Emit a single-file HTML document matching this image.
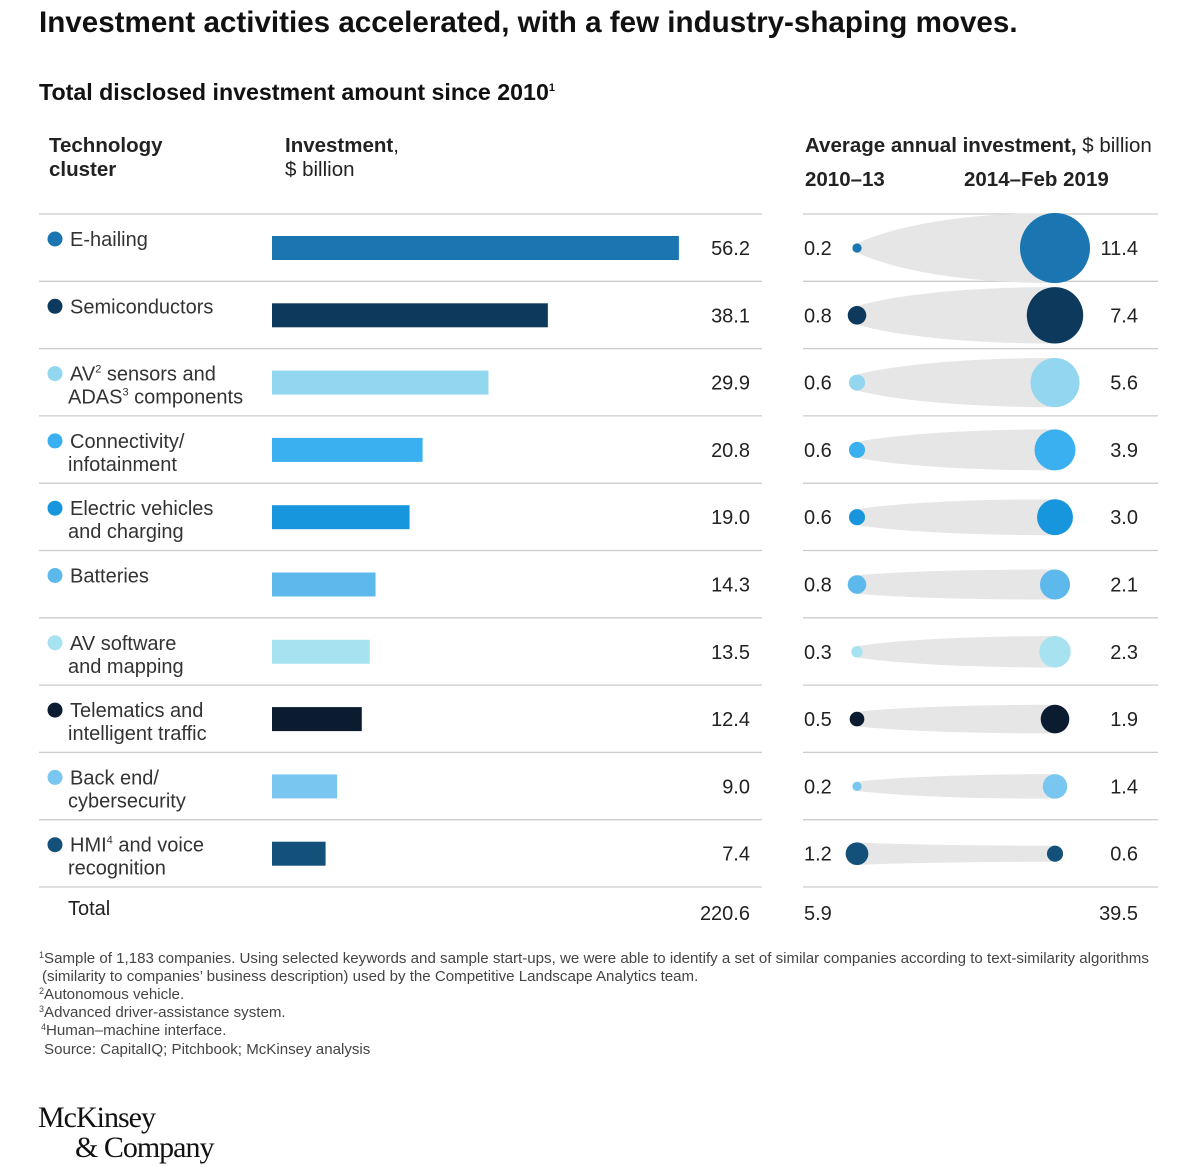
<!DOCTYPE html>
<html><head><meta charset="utf-8"><style>
body{margin:0;background:#fff;}
svg{display:block;font-family:"Liberation Sans",sans-serif;}
</style></head><body>
<svg id="c" width="1200" height="1167" viewBox="0 0 1200 1167">
<text x="39" y="32" font-size="29.6" font-weight="bold" fill="#111">Investment activities accelerated, with a few industry-shaping moves.</text>
<text x="39" y="100" font-size="23.2" font-weight="bold" fill="#111">Total disclosed investment amount since 2010<tspan font-size="11" dy="-9">1</tspan></text>
<g font-size="20.5" fill="#222">
<text x="49" y="152" font-weight="bold">Technology</text><text x="49" y="176" font-weight="bold">cluster</text>
<text x="285" y="152"><tspan font-weight="bold">Investment</tspan>,</text><text x="285" y="176">$ billion</text>
<text x="805" y="152"><tspan font-weight="bold">Average annual investment,</tspan> $ billion</text>
<text x="805" y="186" font-weight="bold">2010–13</text><text x="964" y="186" font-weight="bold">2014–Feb 2019</text>
</g>
<g id="rows"></g>
<g font-size="20" fill="#222">
<text x="68" y="915">Total</text>
<text x="750" y="920" text-anchor="end">220.6</text>
<text x="804" y="920">5.9</text>
<text x="1138" y="920" text-anchor="end">39.5</text>
</g>
<g font-size="15.1" fill="#444">
<text x="39" y="963"><tspan font-size="9" dy="-5">1</tspan><tspan dy="5">Sample of 1,183 companies. Using selected keywords and sample start-ups, we were able to identify a set of similar companies according to text-similarity algorithms</tspan></text>
<text x="42" y="981">(similarity to companies’ business description) used by the Competitive Landscape Analytics team.</text>
<text x="39" y="999"><tspan font-size="9" dy="-5">2</tspan><tspan dy="5">Autonomous vehicle.</tspan></text>
<text x="39" y="1017"><tspan font-size="9" dy="-5">3</tspan><tspan dy="5">Advanced driver-assistance system.</tspan></text>
<text x="41" y="1035"><tspan font-size="9" dy="-5">4</tspan><tspan dy="5">Human–machine interface.</tspan></text>
<text x="44" y="1054">Source: CapitalIQ; Pitchbook; McKinsey analysis</text>
</g>
<g font-family="Liberation Serif,serif" font-size="30" fill="#111">
<text x="38" y="1127" letter-spacing="-1">McKinsey</text>
<text x="75" y="1157" letter-spacing="-1">&amp; Company</text>
</g>
</svg>
<script>
const categories=["E-hailing","Semiconductors","AV sensors and ADAS components","Connectivity/ infotainment","Electric vehicles and charging","Batteries","AV software and mapping","Telematics and intelligent traffic","Back end/ cybersecurity","HMI and voice recognition"];
const totalInvestment=[56.2,38.1,29.9,20.8,19.0,14.3,13.5,12.4,9.0,7.4];
const avg2010=[0.2,0.8,0.6,0.6,0.6,0.8,0.3,0.5,0.2,1.2];
const avg2014=[11.4,7.4,5.6,3.9,3.0,2.1,2.3,1.9,1.4,0.6];
const colors=["#1a75b0","#0d3a5c","#93d6f0","#3ab0f0","#1796dd","#5db8ec","#a6e2f0","#0b1b30","#79c6f0","#13507a"];
const labelLines=[["E-hailing"],["Semiconductors"],["AV<tspan font-size='11' dy='-8'>2</tspan><tspan dy='8'> sensors and</tspan>","ADAS<tspan font-size='11' dy='-8'>3</tspan><tspan dy='8'> components</tspan>"],["Connectivity/","infotainment"],["Electric vehicles","and charging"],["Batteries"],["AV software","and mapping"],["Telematics and","intelligent traffic"],["Back end/","cybersecurity"],["HMI<tspan font-size='11' dy='-8'>4</tspan><tspan dy='8'> and voice</tspan>","recognition"]];
const NS="http://www.w3.org/2000/svg";
const g=document.getElementById('rows');
const rowH=67.3, top0=214;
const xBar=v=>v*7.24;
const rad=v=>Math.sqrt(v)*10.37;
function mk(t,a){const e=document.createElementNS(NS,t);for(const k in a)e.setAttribute(k,a[k]);g.appendChild(e);return e;}
for(let i=0;i<=categories.length;i++){
  const y=top0+i*rowH;
  let l=mk('line',{x1:39,x2:762,y1:y,y2:y,stroke:'#ccc','stroke-width':1.3});
  
  
  let r=mk('line',{x1:803,x2:1158,y1:y,y2:y,stroke:'#ccc','stroke-width':1.3});
  
  
}
categories.forEach((c,i)=>{
  const t=top0+i*rowH, cy=t+34;
  const dot=mk('circle',{cx:55,cy:t+25,r:7.5,fill:colors[i]});
  
  
  labelLines[i].forEach((ln,j)=>{
    const tx=mk('text',{x:j?68:70,y:t+32+j*23,'font-size':20,fill:'#333'});
    tx.innerHTML=ln;
    
    
  });
  const b=mk('rect',{x:272,y:cy-12,width:xBar(totalInvestment[i]),height:24,fill:colors[i]});
  
  
  const v=mk('text',{x:750,y:cy+7,'font-size':20,fill:'#222','text-anchor':'end'});
  v.textContent=totalInvestment[i].toFixed(1);
  
  
  const r1=rad(avg2010[i]), r2=rad(avg2014[i]), x1=857, x2=1055;
  const dr=r2-r1;
  const d=`M${x1},${cy-r1} C${x1+40},${cy-r1-dr*0.6} ${x2-90},${cy-r2} ${x2},${cy-r2} L${x2},${cy+r2} C${x2-90},${cy+r2} ${x1+40},${cy+r1+dr*0.6} ${x1},${cy+r1} Z`;
  const w=mk('path',{d:d,fill:'#e6e6e6'});
  
  
  const c1=mk('circle',{cx:x1,cy:cy,r:r1,fill:colors[i]});
  
  
  const c2=mk('circle',{cx:x2,cy:cy,r:r2,fill:colors[i]});
  
  
  const a=mk('text',{x:804,y:cy+7,'font-size':20,fill:'#222'});
  a.textContent=avg2010[i].toFixed(1);
  
  
  const bb=mk('text',{x:1138,y:cy+7,'font-size':20,fill:'#222','text-anchor':'end'});
  bb.textContent=avg2014[i].toFixed(1);
  
  
});
</script>
</body></html>
